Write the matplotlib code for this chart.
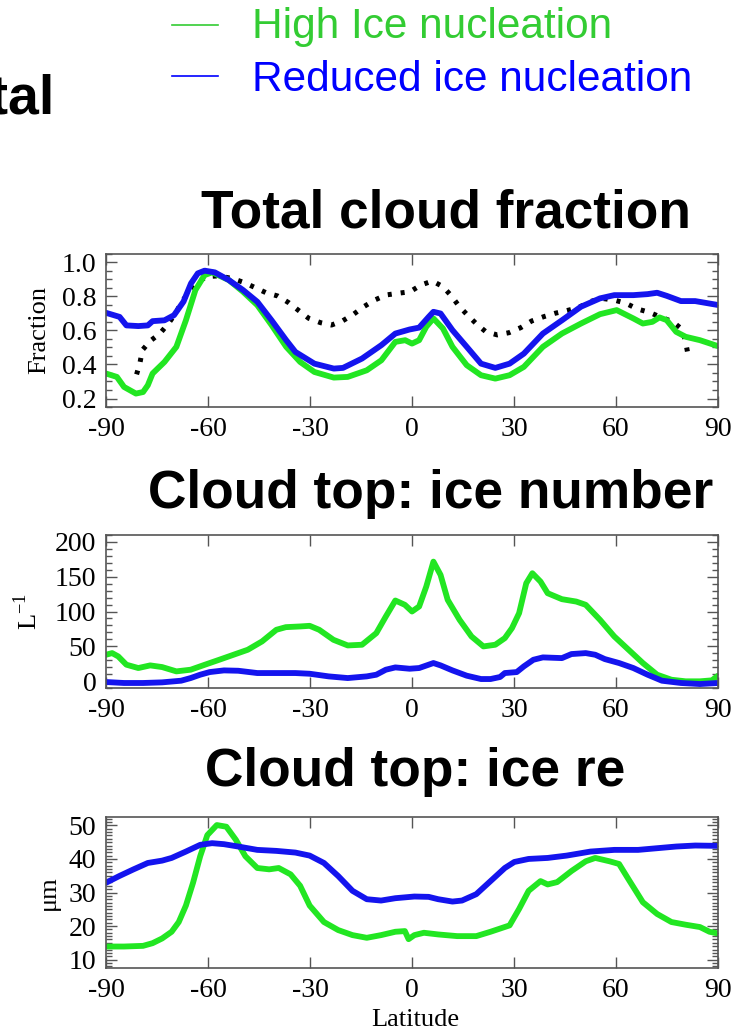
import matplotlib
matplotlib.use("Agg")
import matplotlib.pyplot as plt
from matplotlib.lines import Line2D
from matplotlib.ticker import MultipleLocator
import numpy as np

# ---- total cloud fraction ----
cf_high_lat = [-90, -86.8, -84.7, -81.2, -79.1, -77.7, -76.3, -72.8, -69.3, -66.5, -63.7, -61, -58.8,
               -53.9, -49.7, -45.5, -41.3, -37, -32.9, -28.7, -23, -18.9, -13.3, -9, -4.9, -2, 0,
               2.1, 4.2, 6.3, 9.1, 11.9, 16.1, 20.3, 24.5, 28.7, 32.9, 38.5, 44.1, 49.7, 55.3,
               60.2, 65.1, 67.9, 70.7, 72.8, 74.9, 77.7, 80.5, 84.7, 90]
cf_high = [0.347, 0.327, 0.268, 0.229, 0.238, 0.278, 0.347, 0.415, 0.504, 0.66, 0.838, 0.926, 0.942,
           0.897, 0.828, 0.749, 0.632, 0.504, 0.415, 0.356, 0.323, 0.327, 0.366, 0.425, 0.533, 0.543, 0.523,
           0.543, 0.622, 0.671, 0.612, 0.504, 0.396, 0.337, 0.317, 0.337, 0.386, 0.504, 0.582, 0.641, 0.696,
           0.72, 0.671, 0.641, 0.651, 0.677, 0.661, 0.592, 0.563, 0.543, 0.508]

cf_red_lat = [-90, -86, -84, -80.5, -77.7, -76.3, -72.8, -70, -67.2, -65, -63, -61, -58, -53.9, -49.7,
              -45.5, -41.3, -37, -34.3, -28.7, -23, -20.3, -14.7, -9, -4.9, -0.7, 2.1, 4.9, 6.3, 8.4,
              11.9, 16.1, 20.3, 24.5, 28.7, 32.9, 38.5, 44.1, 49.7, 55.3, 59.5, 65.1, 69.3, 72.1,
              74.9, 79.1, 83.3, 90]
cf_red = [0.704, 0.68, 0.63, 0.626, 0.63, 0.655, 0.66, 0.69, 0.77, 0.877, 0.936, 0.952, 0.942, 0.897, 0.838,
          0.769, 0.66, 0.543, 0.474, 0.405, 0.376, 0.38, 0.435, 0.514, 0.582, 0.606, 0.617, 0.68, 0.71, 0.70,
          0.602, 0.504, 0.405, 0.38, 0.405, 0.464, 0.582, 0.66, 0.74, 0.789, 0.808, 0.808, 0.814, 0.822,
          0.804, 0.773, 0.773, 0.75]

cf_obs_lat = [-81, -80, -79.3, -77, -74.1, -71.6, -69.4, -67.7, -65.7, -63.5, -60.3, -57.2, -53, -49.5,
              -46.1, -42.9, -39.5, -36.3, -33.3, -30.4, -26.9, -23.7, -20.3, -17.1, -14.2, -11, -7.6,
              -4.1, -0.6, 2.7, 6.0, 9.1, 11.6, 13.8, 16.3, 19.0, 21.7, 25.1, 28.5, 32, 35.2, 38.7, 42,
              45.5, 48.9, 52.4, 55.8, 59.5, 62.9, 66.4, 69.8, 73.2, 76.7, 79.4, 80.4, 81.1]
cf_obs = [0.342, 0.411, 0.485, 0.538, 0.583, 0.642, 0.705, 0.77, 0.822, 0.881, 0.917, 0.921, 0.907, 0.883,
          0.852, 0.822, 0.803, 0.764, 0.717, 0.672, 0.646, 0.632, 0.658, 0.697, 0.74, 0.779, 0.809,
          0.819, 0.828, 0.868, 0.891, 0.858, 0.803, 0.744, 0.691, 0.638, 0.593, 0.574, 0.587, 0.617, 0.656,
          0.681, 0.701, 0.717, 0.734, 0.77, 0.789, 0.779, 0.76, 0.726, 0.707, 0.678, 0.652, 0.607, 0.54, 0.466]

# ---- cloud top ice number (L^-1) ----
ni_high_lat = [-90, -88.2, -86.4, -84, -80.5, -77, -73.5, -69.3, -65.1, -60.9, -56.7, -52.5, -48.3, -44.1,
               -39.9, -37.1, -32.9, -30.1, -27.3, -23.1, -18.9, -14.7, -10.5, -7.7, -4.9, -2.1, 0, 2.1,
               4.2, 6.3, 8.4, 10.5, 14, 17.5, 21, 24.5, 27.3, 29.4, 31.5, 33.6, 35.4, 37.8, 39.9, 44.1,
               48.3, 51.1, 55.3, 59.5, 63.7, 67.9, 72.1, 76.3, 80.5, 84.7, 88.2, 90]
ni_high = [37.8, 40.2, 35.4, 23.5, 18.7, 22.5, 20.1, 13.9, 16.3, 23.5, 30.6, 37.8, 45.0, 57.0,
           73.7, 77.5, 78.5, 79.4, 73.7, 59.3, 51.2, 52.2, 68.9, 92.8, 115.8, 109.6, 100.0, 107.2,
           135.9, 171.7, 152.6, 116.7, 88.0, 64.1, 49.8, 52.2, 61.7, 76.1, 97.6, 140.6, 155.0, 143.0, 126.3, 117.7,
           114.3, 109.6, 88.0, 64.1, 45.0, 25.9, 9.1, 1.9, -0.4, -0.4, 1.0, 7.7]

ni_red_lat = [-90, -84.7, -79.1, -73.5, -67.9, -65.1, -62.3, -59.5, -55.3, -51.1, -45.5, -39.9, -34.3,
              -30.1, -24.5, -18.9, -13.3, -10.5, -7.7, -4.9, -0.7, 2.1, 4.9, 6.3, 8.4, 11.9, 16.1, 20.3,
              23.1, 25.9, 27.3, 30.8, 32.9, 35.7, 38.5, 44.1, 46.9, 51.1, 53.9, 56.7, 60.9, 65.1, 69.3,
              73.5, 79.1, 84.7, 90]
ni_red = [-1.4, -2.8, -2.8, -1.9, 0.5, 4.3, 9.1, 12.9, 15.3, 14.8, 11.5, 11.5, 11.5,
          10.5, 6.7, 4.3, 6.7, 9.1, 16.3, 19.6, 17.7, 18.7, 23.5, 25.9, 22.5, 15.3, 7.7, 2.9,
          2.9, 5.8, 11.5, 12.9, 21.1, 30.6, 34.0, 33.0, 38.8, 40.2, 37.8, 31.6, 25.9, 18.7, 9.1,
          0.5, -2.8, -4.3, -2.8]

# ---- cloud top ice effective radius (um) ----
re_high_lat = [-90, -84.7, -79.1, -76.3, -73.5, -70.7, -68.6, -66.5, -64.4, -62.3, -60.2, -57.4, -54.6,
               -51.8, -49, -45.5, -42, -39.2, -35.7, -32.9, -30.1, -25.9, -21.7, -17.5, -13.3, -9.1,
               -4.9, -2.1, -1.0, 0.7, 3.5, 7.7, 13.3, 18.9, 23.1, 28.7, 31.5, 34.3, 37.8, 39.9, 42.7,
               46.9, 51.1, 53.9, 58.1, 60.9, 63.7, 67.9, 72.1, 76.3, 80.5, 84.7, 87.5, 90]
re_high = [13.9, 13.9, 14.1, 14.9, 16.3, 18.3, 21.2, 26.1, 32.9, 40.8, 47.1, 50.1, 49.6,
           45.7, 40.8, 37.3, 36.9, 37.3, 35.4, 32.0, 26.1, 21.2, 18.8, 17.3, 16.5, 17.3,
           18.3, 18.5, 16.1, 17.3, 18.0, 17.5, 17.0, 17.0, 18.3, 20.2, 25.1, 30.5, 33.4, 32.4, 33.1,
           36.4, 39.3, 40.3, 39.3, 38.5, 33.9, 27.1, 23.6, 21.2, 20.4, 19.7, 18.3, 17.8]

re_red_lat = [-90, -86.1, -81.9, -77.7, -73.5, -70.7, -66.5, -62.3, -58.8, -55.3, -51.1, -45.5, -39.9,
              -34.3, -30.1, -25.9, -21.7, -17.5, -13.3, -9.1, -4.9, 0.7, 4.9, 7.7, 11.9, 14.7, 18.9,
              23.1, 27.3, 30.1, 34.3, 39.9, 45.5, 52.5, 59.5, 66.5, 72.1, 77.7, 83.3, 90]
re_red = [32.9, 34.9, 36.9, 38.8, 39.5, 40.3, 42.2, 44.2, 44.7, 44.4, 43.7, 42.7, 42.4,
          41.9, 41.0, 38.8, 34.9, 30.5, 28.0, 27.6, 28.3, 28.8, 28.7, 28.0, 27.3, 27.6, 29.5,
          33.4, 37.3, 39.1, 40.0, 40.3, 41.0, 42.2, 42.7, 42.7, 43.2, 43.7, 44.0, 43.9]

lat_ticks = [-90, -60, -30, 0, 30, 60, 90]

GREEN = '#22e622'
BLUE = '#1414ee'

plt.rcParams['font.family'] = 'serif'
plt.rcParams['font.serif'] = ['Liberation Serif', 'DejaVu Serif']
plt.rcParams['mathtext.fontset'] = 'custom'
plt.rcParams['mathtext.rm'] = 'Liberation Serif'

W, H = 746, 1033
fig = plt.figure(figsize=(W / 100, H / 100), dpi=100)


def px_axes(left, top, right, bottom):
    return fig.add_axes([left / W, 1 - bottom / H, (right - left) / W, (bottom - top) / H])


def style(ax, ylim, yticks, yminor):
    ax.set_xlim(-90, 90)
    ax.set_ylim(*ylim)
    ax.set_xticks(lat_ticks)
    ax.set_xticklabels([str(t) for t in lat_ticks])
    ax.set_yticks(yticks)
    ax.yaxis.set_minor_locator(MultipleLocator(yminor))
    ax.tick_params(which='both', direction='in', top=True, right=True, labelsize=20,
                   color='#555555', width=1)
    ax.tick_params(which='major', length=8, pad=7)
    ax.tick_params(which='minor', length=4)
    ax.tick_params(axis='x', which='minor', top=False, bottom=False)
    for sp in ax.spines.values():
        sp.set_color('#555555')
        sp.set_linewidth(1.2)


lw = 4.2

# panel 1
ax1 = px_axes(106, 254, 718, 407)
ax1.plot(cf_obs_lat, cf_obs, color='black', lw=3.6, linestyle=(0, (0.8, 1.8)))
ax1.plot(cf_high_lat, cf_high, color=GREEN, lw=lw, solid_capstyle='round', solid_joinstyle='round')
ax1.plot(cf_red_lat, cf_red, color=BLUE, lw=lw, solid_capstyle='round', solid_joinstyle='round')
style(ax1, (0.15, 1.05), [0.2, 0.4, 0.6, 0.8, 1.0], 0.05)
ax1.set_yticklabels(['0.2', '0.4', '0.6', '0.8', '1.0'])
ax1.set_ylabel('Fraction', fontsize=19)
ax1.yaxis.set_label_coords((50 - 106) / 612, 0.5)

# panel 2
ax2 = px_axes(106, 535, 718, 688)
ax2.plot(ni_high_lat, ni_high, color=GREEN, lw=lw, solid_capstyle='round', solid_joinstyle='round')
ax2.plot(ni_red_lat, ni_red, color=BLUE, lw=lw, solid_capstyle='round', solid_joinstyle='round')
style(ax2, (-10, 210), [0, 50, 100, 150, 200], 10)
ax2.set_ylabel(r'L$^{-1}$', fontsize=19)
ax2.yaxis.set_label_coords((42 - 106) / 612, 0.5)

# panel 3
ax3 = px_axes(106, 817, 718, 968)
ax3.plot(re_high_lat, re_high, color=GREEN, lw=lw, solid_capstyle='round', solid_joinstyle='round')
ax3.plot(re_red_lat, re_red, color=BLUE, lw=lw, solid_capstyle='round', solid_joinstyle='round')
style(ax3, (7.5, 52.5), [10, 20, 30, 40, 50], 1)
ax3.set_ylabel('\u03bcm', fontsize=19)
ax3.yaxis.set_label_coords((60 - 106) / 612, 0.5)
ax3.set_xlabel('Latitude', fontsize=19)
ax3.xaxis.set_label_coords(0.505, -0.27)

# panel titles
title_kw = dict(family=['Liberation Sans', 'DejaVu Sans'], weight='bold', fontsize=38.3,
                ha='center', va='baseline', color='black')
fig.text(446 / W, 1 - 227 / H, 'Total cloud fraction', **title_kw)
fig.text(431 / W, 1 - 508 / H, 'Cloud top: ice number', **title_kw)
fig.text(415 / W, 1 - 786 / H, 'Cloud top: ice re', **title_kw)
fig.text(55 / W, 1 - 113 / H, 'Total', family=['Liberation Sans', 'DejaVu Sans'],
         weight='bold', fontsize=40, ha='right', va='baseline')

# legend
leg_kw = dict(family=['Liberation Sans', 'DejaVu Sans'], fontsize=30.5, ha='left', va='baseline')
for y_line, y_base, col, txt in [(25, 38, '#33cc33', 'High Ice nucleation'),
                                 (76, 91, '#0000ff', 'Reduced ice nucleation')]:
    fig.add_artist(Line2D([172 / W, 218 / W], [1 - y_line / H, 1 - y_line / H],
                          color=col, lw=1.2, transform=fig.transFigure))
    fig.text(252 / W, 1 - y_base / H, txt, color=col, **leg_kw)

fig.savefig('out.png', dpi=100)
